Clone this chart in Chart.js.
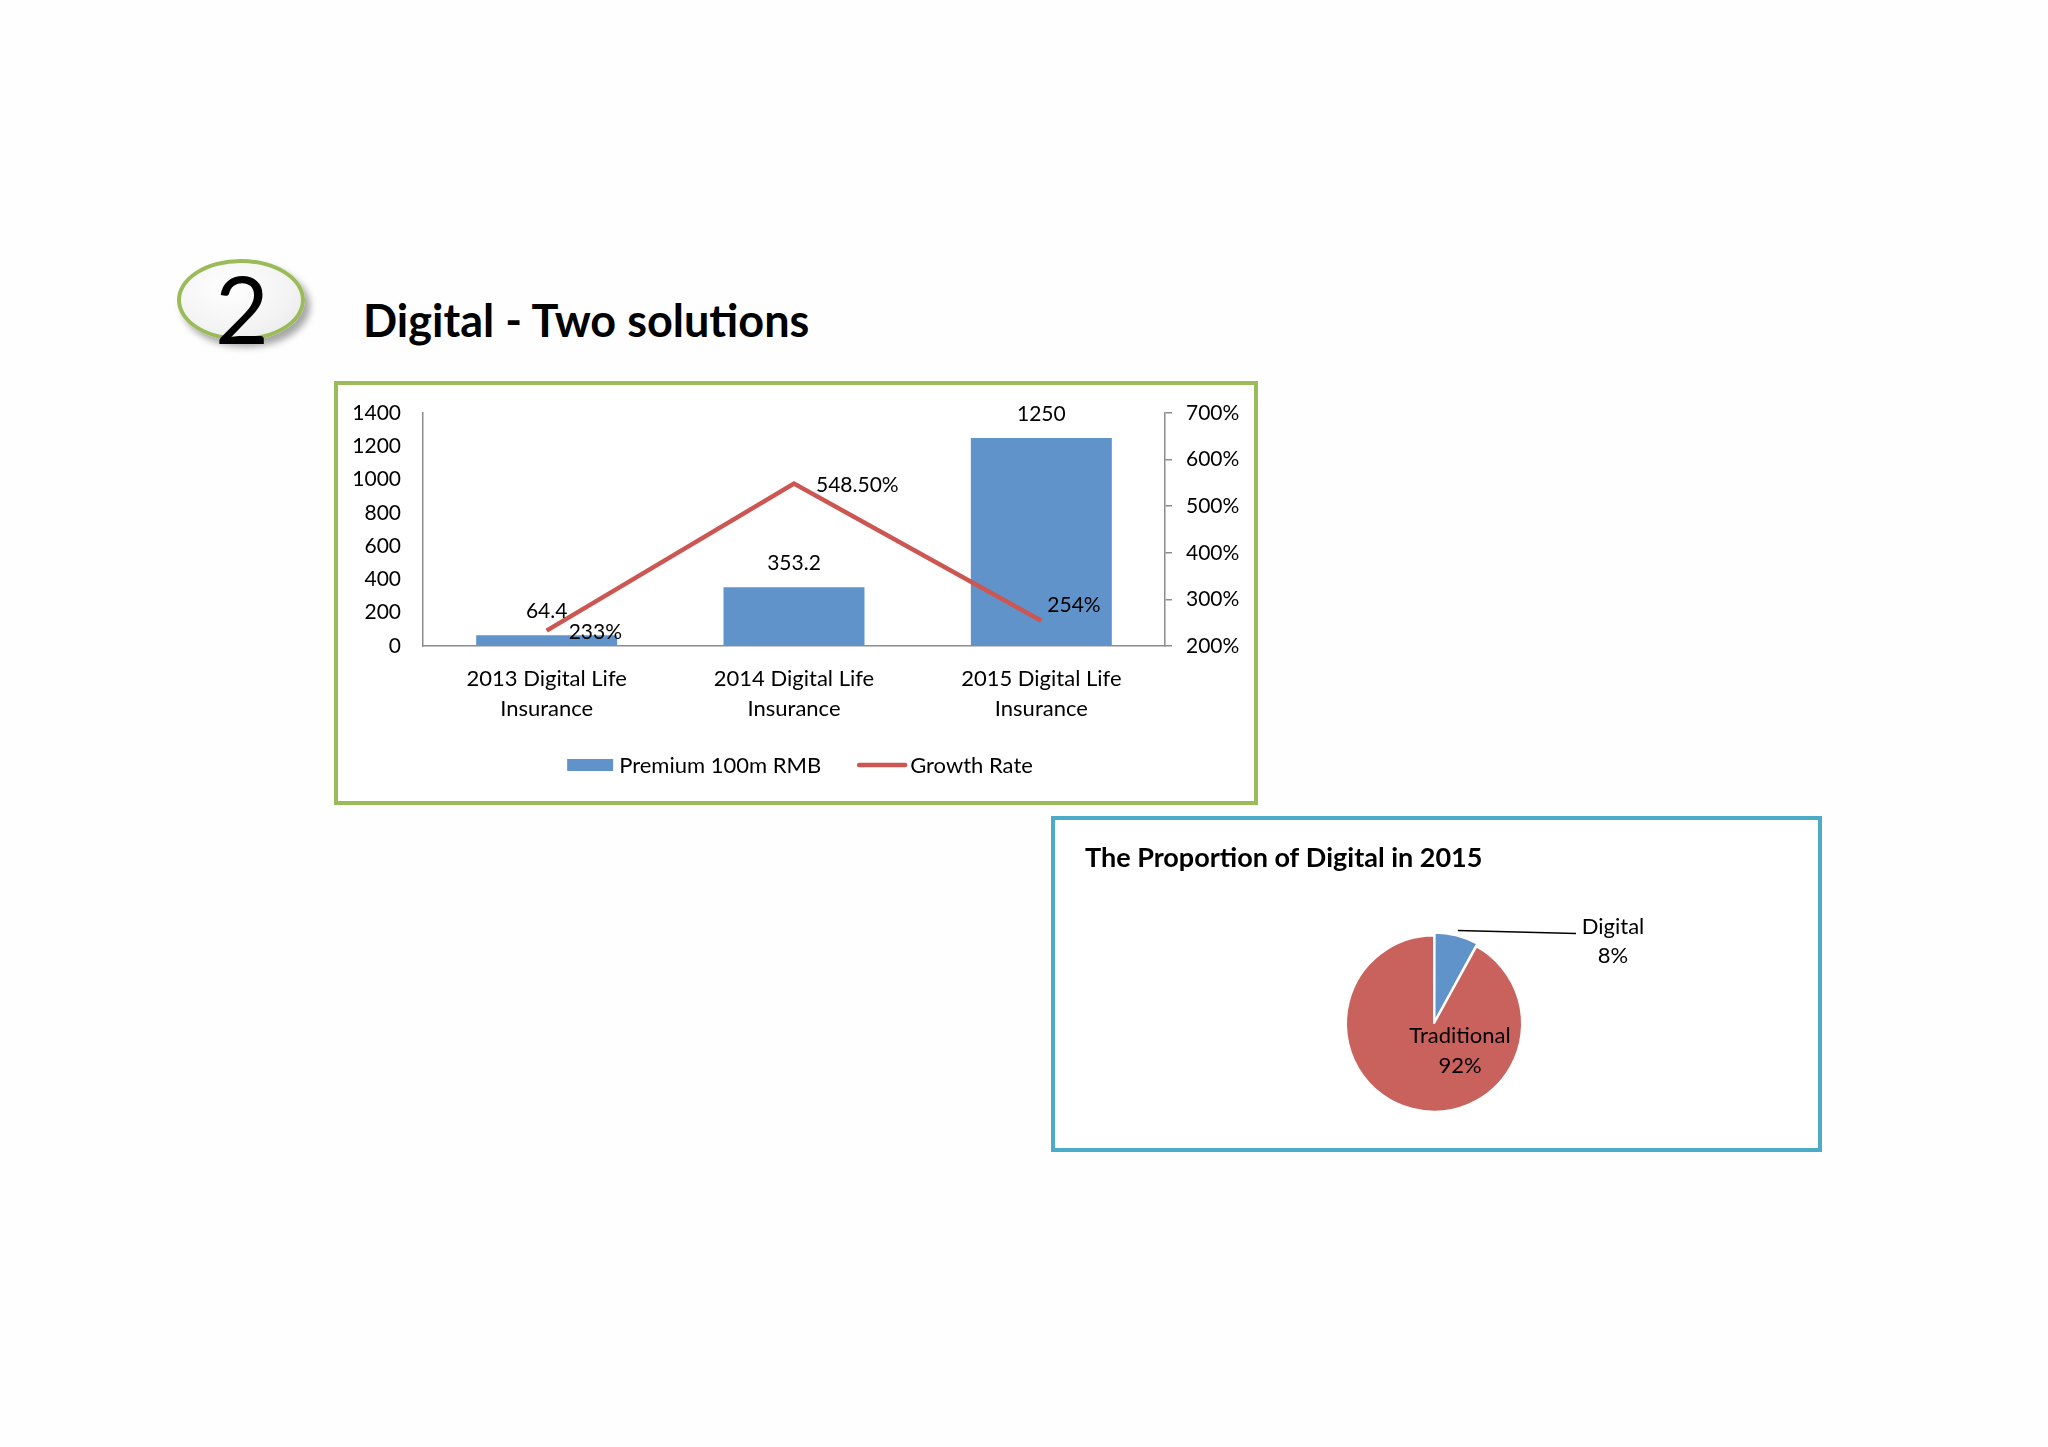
<!DOCTYPE html>
<html>
<head>
<meta charset="utf-8">
<title>Digital - Two solutions</title>
<script src="https://cdn.jsdelivr.net/npm/chart.js@4.4.1/dist/chart.umd.min.js"></script>
<style>
  html, body { margin: 0; padding: 0; background: #fefefe; }
  body { position: relative; width: 2048px; height: 1447px; overflow: hidden; font-family: Lato, sans-serif; }
  .badge {
    position: absolute; left: 177px; top: 259px; width: 128px; height: 82px;
    box-sizing: border-box; border: 4px solid #9bbb59; border-radius: 50%;
    background: radial-gradient(ellipse at 40% 35%, #ffffff 0%, #f3f3f3 60%, #e6e6e6 100%);
    box-shadow: 5px 6px 7px rgba(0, 0, 0, 0.35);
  }
  .badge-num { position: absolute; left: 215px; top: 262px; font-size: 93px; line-height: 1; color: #000; }
  .heading { position: absolute; left: 363px; top: 298px; font-size: 45px; line-height: 1; font-weight: 700; color: #000; }
  .frame { position: absolute; box-sizing: border-box; }
  #comboFrame { left: 334px; top: 381px; width: 924px; height: 424px; border: 4px solid #9bbb59; background: #fff; }
  #pieFrame { left: 1051px; top: 816px; width: 771px; height: 336px; border: 4px solid #4bacc6; background: #fff; }
  canvas { display: block; }
</style>
</head>
<body>
  <div class="badge"></div>
  <div class="badge-num">2</div>
  <div class="heading">Digital - Two solutions</div>
  <div class="frame" id="comboFrame"><canvas id="comboChart" width="916" height="416"></canvas></div>
  <div class="frame" id="pieFrame"><canvas id="pieChart" width="763" height="328"></canvas></div>

<script>
// Bar + line chart data
const categories = [
  ["2013 Digital Life", "Insurance"],
  ["2014 Digital Life", "Insurance"],
  ["2015 Digital Life", "Insurance"],
]
const premium = [64.4, 353.2, 1250]
const growthRate = [233, 548.5, 254]
const growthLabels = ["233%", "548.50%", "254%"]

// Pie chart data
const shareLabels = ["Digital", "Traditional"]
const shareValues = [8, 92]

const BAR_BLUE = "#6193cb"
const LINE_RED = "#cc5651"
const PIE_RED = "#c9625c"
const AXIS_GREY = "#8c8c8c"

document.addEventListener("DOMContentLoaded", () => {
  Chart.defaults.font.family = "Lato"
  Chart.defaults.color = "#000"
  drawComboChart()
  drawPieChart()
})

// Labels above bars and beside line points (last one sits a bit higher, like the original)
const lineLabelShift = [
  { dx: 22, dy: 2 },
  { dx: 22, dy: 2 },
  { dx: 6, dy: -16 },
]

const valueLabels = {
  id: "valueLabels",
  afterDatasetsDraw(chart) {
    const ctx = chart.ctx
    ctx.save()
    ctx.font = "21px Lato"
    ctx.fillStyle = "#000"
    ctx.textBaseline = "middle"

    ctx.textAlign = "center"
    chart.getDatasetMeta(0).data.forEach((bar, i) => {
      ctx.fillText(String(premium[i]), bar.x, bar.y - 24)
    })

    ctx.textAlign = "left"
    chart.getDatasetMeta(1).data.forEach((pt, i) => {
      const s = lineLabelShift[i]
      ctx.fillText(growthLabels[i], pt.x + s.dx, pt.y + s.dy)
    })
    ctx.restore()
  },
}

// Excel-like legend: wide bar swatch, line swatch, tight text gap
const comboLegend = {
  id: "comboLegend",
  afterDraw(chart) {
    const ctx = chart.ctx
    const sets = chart.data.datasets
    ctx.save()
    ctx.font = "22px Lato"
    ctx.textBaseline = "middle"
    ctx.textAlign = "left"
    const items = sets.map((ds) => ({
      ds,
      sw: ds.type === "bar" ? 46 : 50,
      gap: ds.type === "bar" ? 6 : 3,
      tw: ctx.measureText(ds.label).width,
    }))
    const spacing = 36
    const total = items.reduce((s, it) => s + it.sw + it.gap + it.tw, 0) + spacing * (items.length - 1)
    let x = chart.width / 2 + 4 - total / 2
    const y = chart.chartArea.bottom + 119
    items.forEach((it) => {
      if (it.ds.type === "bar") {
        ctx.fillStyle = it.ds.backgroundColor
        ctx.fillRect(x, y - 6, it.sw, 12)
      } else {
        ctx.strokeStyle = it.ds.borderColor
        ctx.lineWidth = it.ds.borderWidth
        ctx.lineCap = "round"
        ctx.beginPath()
        ctx.moveTo(x + 2, y)
        ctx.lineTo(x + it.sw - 2, y)
        ctx.stroke()
      }
      ctx.fillStyle = "#000"
      ctx.fillText(it.ds.label, x + it.sw + it.gap, y + 1)
      x += it.sw + it.gap + it.tw + spacing
    })
    ctx.restore()
  },
}

function drawComboChart() {
  const ctx = document.getElementById("comboChart")
  new Chart(ctx, {
    data: {
      labels: categories,
      datasets: [
        {
          type: "bar",
          label: "Premium 100m RMB",
          data: premium,
          yAxisID: "y",
          backgroundColor: BAR_BLUE,
          borderWidth: 0,
          barPercentage: 0.57,
          categoryPercentage: 1,
          order: 2,
        },
        {
          type: "line",
          label: "Growth Rate",
          data: growthRate,
          yAxisID: "y1",
          borderColor: LINE_RED,
          backgroundColor: LINE_RED,
          borderWidth: 4.5,
          pointRadius: 0,
          pointHoverRadius: 0,
          tension: 0,
          order: 1,
        },
      ],
    },
    options: {
      responsive: false,
      animation: false,
      events: [],
      layout: { padding: { top: 28, left: 0, right: 0, bottom: 58 } },
      plugins: {
        tooltip: { enabled: false },
        legend: { display: false },
      },
      scales: {
        x: {
          grid: { display: false, drawTicks: false },
          border: { display: true, color: AXIS_GREY, width: 1.5 },
          ticks: { color: "#000", font: { size: 22, lineHeight: 1.35 }, padding: 18, maxRotation: 0 },
          afterFit: (scale) => { scale.height = 97 },
        },
        y: {
          position: "left",
          min: 0,
          max: 1400,
          // invisible tick marks keep the label gap without pushing the plot top down
          grid: { drawOnChartArea: false, drawTicks: true, tickLength: 16, color: "rgba(0,0,0,0)" },
          border: { display: true, color: AXIS_GREY, width: 1.5 },
          ticks: { stepSize: 200, color: "#000", font: { size: 21 }, padding: 6, callback: (v) => String(v) },
          afterFit: (scale) => { scale.width = 85 },
        },
        y1: {
          position: "right",
          min: 200,
          max: 700,
          grid: { drawOnChartArea: false, drawTicks: true, tickLength: 7, color: AXIS_GREY, lineWidth: 1.5 },
          border: { display: true, color: AXIS_GREY, width: 1.5 },
          ticks: {
            stepSize: 100,
            color: "#000",
            font: { size: 21, lineHeight: 1 },
            padding: 14,
            callback: (v) => v + "%",
          },
          afterFit: (scale) => { scale.width = 89 },
        },
      },
    },
    plugins: [valueLabels, comboLegend],
  })
}

// Slice labels: inside for the big slice, leader line for the small one
const sliceLabels = {
  id: "sliceLabels",
  afterDatasetsDraw(chart) {
    const ctx = chart.ctx
    const arcs = chart.getDatasetMeta(0).data
    ctx.save()
    ctx.font = "22px Lato"
    ctx.fillStyle = "#000"
    ctx.textAlign = "center"
    ctx.textBaseline = "middle"

    // Digital
    const d = arcs[0]
    const mid = (d.startAngle + d.endAngle) / 2
    const r = d.outerRadius + (d.options.offset || 0)
    const sx = d.x + Math.cos(mid) * r
    const sy = d.y + Math.sin(mid) * r
    ctx.strokeStyle = "#000"
    ctx.lineWidth = 1.5
    ctx.beginPath()
    ctx.moveTo(sx, sy)
    ctx.lineTo(d.x + 142, sy + 3)
    ctx.stroke()
    ctx.fillText(shareLabels[0], d.x + 179, d.y - 97)
    ctx.fillText(shareValues[0] + "%", d.x + 179, d.y - 68)

    // Traditional
    const t = arcs[1]
    ctx.fillText(shareLabels[1], t.x + 26, t.y + 12)
    ctx.fillText(shareValues[1] + "%", t.x + 26, t.y + 42)
    ctx.restore()
  },
}

function drawPieChart() {
  const ctx = document.getElementById("pieChart")
  new Chart(ctx, {
    type: "pie",
    data: {
      labels: shareLabels,
      datasets: [
        {
          data: shareValues,
          backgroundColor: [BAR_BLUE, PIE_RED],
          borderColor: "#ffffff",
          borderWidth: 2,
          offset: [8, 0],
        },
      ],
    },
    options: {
      responsive: false,
      animation: false,
      events: [],
      radius: 88,
      layout: { padding: { top: 0, left: 30, right: 35, bottom: 0 } },
      plugins: {
        tooltip: { enabled: false },
        legend: { display: false },
        title: {
          display: true,
          text: "The Proportion of Digital in 2015",
          align: "start",
          color: "#000",
          font: { size: 27, weight: "bold", lineHeight: 1.2 },
          padding: { top: 21.8, bottom: 25 },
        },
      },
    },
    plugins: [sliceLabels],
  })
}
</script>
</body>
</html>
